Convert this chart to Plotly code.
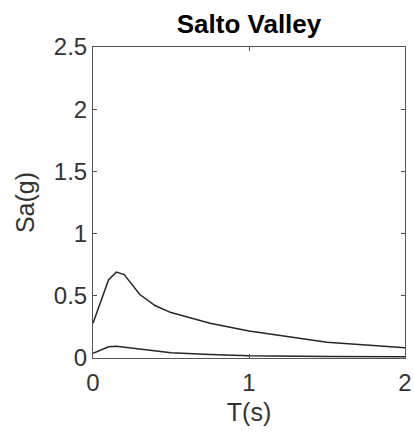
import plotly.graph_objects as go

T_upper = [0, 0.1, 0.15, 0.2, 0.3, 0.4, 0.5, 0.75, 1.0, 1.5, 2.0]
Sa_upper = [0.28, 0.63, 0.69, 0.67, 0.51, 0.42, 0.365, 0.28, 0.217, 0.126, 0.083]
T_lower = [0, 0.1, 0.15, 0.2, 0.3, 0.4, 0.5, 0.75, 1.0, 1.5, 2.0]
Sa_lower = [0.038, 0.09, 0.095, 0.088, 0.07, 0.055, 0.042, 0.028, 0.018, 0.012, 0.01]

x_ticks = [0, 1, 2]
y_ticks = [0, 0.5, 1, 1.5, 2, 2.5]
y_labels = ["0", "0.5", "1", "1.5", "2", "2.5"]

fig = go.Figure()
for T, S in [(T_upper, Sa_upper), (T_lower, Sa_lower)]:
    fig.add_trace(go.Scatter(x=T, y=S, mode="lines",
                             line=dict(color="#262626", width=1.5),
                             showlegend=False, hoverinfo="skip"))

font = "Liberation Sans, Arial, Helvetica, sans-serif"
axis_common = dict(showgrid=False, zeroline=False, showline=True, mirror="ticks",
                   linecolor="#555555", linewidth=1, ticks="inside", ticklen=4,
                   tickcolor="#555555", tickfont=dict(size=24, color="#333333", family=font),
                   automargin=False)
fig.update_layout(
    width=414, height=444,
    margin=dict(l=93, r=9, t=47, b=86, autoexpand=False),
    paper_bgcolor="white", plot_bgcolor="white",
    title=dict(text="<b>Salto Valley</b>", x=(93 + 405) / 2 / 414, xanchor="center",
               y=1 - 24 / 444, yanchor="middle",
               font=dict(size=26, color="black", family=font)),
    xaxis=dict(range=[0, 2], tickvals=x_ticks, ticktext=[str(v) for v in x_ticks],
               ticklabelstandoff=3,
               title=dict(text="T(s)", font=dict(size=25, color="#333333", family=font), standoff=8),
               **axis_common),
    yaxis=dict(range=[0, 2.5], tickvals=y_ticks, ticktext=y_labels,
               title=dict(text="Sa(g)", font=dict(size=25, color="#333333", family=font), standoff=12),
               **axis_common),
)
fig.write_html("out.html")
